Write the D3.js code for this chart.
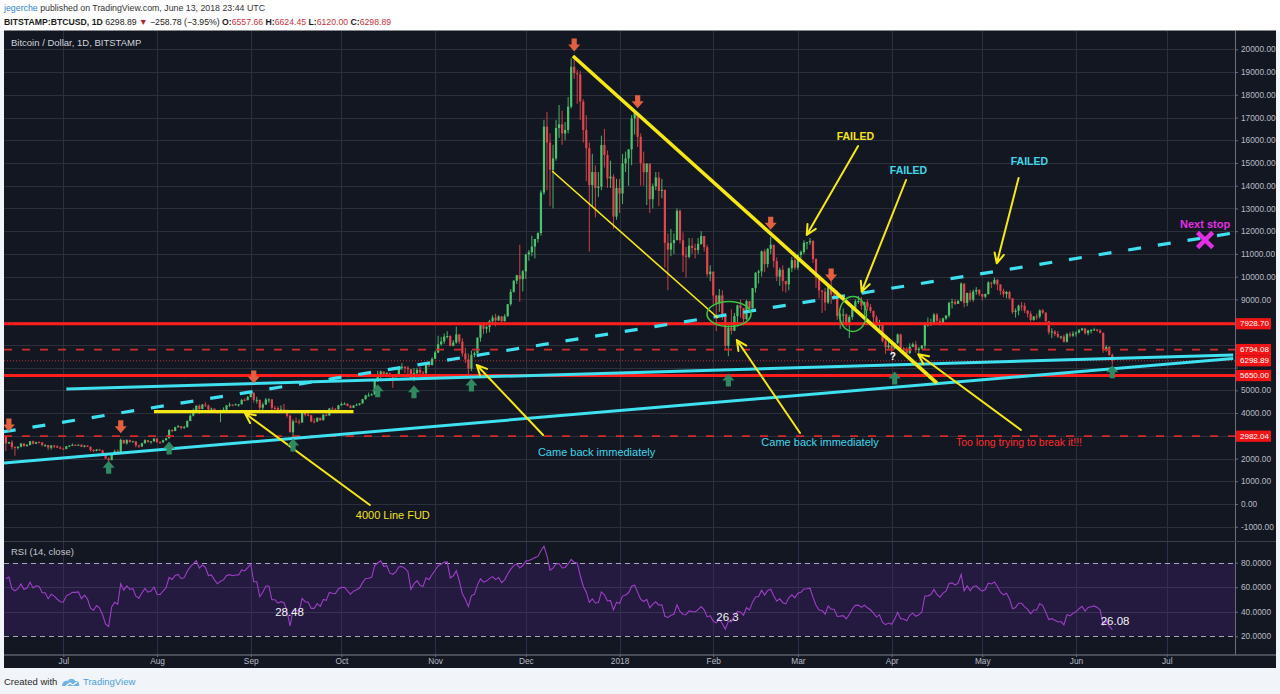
<!DOCTYPE html>
<html>
<head>
<meta charset="utf-8">
<script src="https://cdn.jsdelivr.net/npm/d3@7"></script>
<style>
  html, body { margin: 0; padding: 0; background: #f1f4f8; }
  svg { display: block; font-family: "Liberation Sans", Arial, sans-serif; }
</style>
</head>
<body>
<svg id="chart" width="1280" height="694"></svg>
<script>
// BTCUSD daily (Bitstamp), Jun 12 2017 -> Jun 13 2018
const firstDay = "2017-06-12";
// closes before the first bar, only used to warm up RSI(14); last one is the first bar's open
const warmupCloses = [2038, 2155, 2255, 2175, 2286, 2407, 2488, 2516, 2540, 2687, 2863, 2732, 2805, 2823, 2947, 2958];

const closes = [
  2659,2717,2506,2464,2518,2655,2548,2590,2761,2653,2717,2706,2589,2590,2478,2574,2539,2481,2434,
  2425,2536,2564,2602,2601,2608,2518,2571,2518,2372,2337,2398,2357,2233,1999,1929,2228,2318,2273,2817,2667,2810,2730,2755,2577,2529,2671,2809,2726,2757,2875,
  2718,2710,2805,2895,3252,3213,3378,3419,3342,3381,3650,3884,4073,4325,4181,4376,4331,4160,4193,4088,4001,4100,4151,4334,4371,4352,4382,4382,4579,4565,4703,
  4892,4578,4582,4236,4376,4597,4599,4228,4226,4122,4161,4130,3882,3154,3637,3625,3582,4065,3924,3905,3631,3630,3792,3682,3926,3892,4200,4174,4163,4338,
  4403,4409,4318,4229,4328,4370,4426,4611,4773,4782,4820,5431,5638,5829,5712,5754,5596,5572,5696,6010,6031,5995,5930,5526,5750,5904,5780,5753,6154,6105,6388,
  6665,7024,7152,7363,7389,6959,7102,7459,7143,6618,6357,5950,6559,6635,7315,7871,7708,7790,8037,8200,8071,8253,8038,8253,8790,9330,9818,10058,9888,10233,
  10975,11074,11323,11657,11916,13700,16600,15900,14700,15200,16540,16700,16300,16450,17475,19230,18950,18900,17700,16450,15650,14030,14600,13900,13960,15790,15350,14320,14400,12640,13900,
  13657,14982,15201,15599,16960,17185,16150,14990,14595,14973,13405,13980,14360,13772,13819,11490,11188,11474,11607,12899,11600,10931,10868,11359,11259,11171,11441,11787,11296,10107,10221,
  9171,8830,9174,8277,6955,7754,7621,8265,8736,8621,8129,8926,8598,9494,10166,10233,11112,10551,11225,11403,10690,10005,10301,9813,9664,10366,10725,10397,
  10951,11086,11489,11512,11573,10779,9965,9395,9337,8866,9578,9205,9194,8269,8300,8338,7916,8223,8630,8913,8929,8728,8879,8668,8495,8209,7833,7954,7165,6891,6973,
  6844,7083,7456,6853,6811,6636,6911,7023,6770,6834,6968,7889,7895,7986,8329,8058,7903,8163,8294,8845,8895,8802,8930,9697,8845,9281,8987,9348,9419,9240,
  9119,9235,9743,9700,9858,9654,9373,9234,9325,9043,8441,8504,8723,8716,8510,8368,8094,8250,8247,8513,8418,8041,7557,7587,7480,7355,7368,7135,7472,7406,7494,
  7541,7643,7720,7514,7633,7653,7678,7624,7531,6786,6906,6557.66,6298.89
];
const highs = [
  2981,2740,2800,2535,2535,2686,2685,2640,2766,2790,2739,2759,2720,2630,2600,2579,2596,2580,2540,
  2480,2550,2595,2660,2620,2620,2610,2580,2575,2530,2410,2418,2425,2385,2240,2060,2240,2390,2400,2880,2830,2850,2835,2780,2760,2610,2695,2840,2810,2760,2900,
  2900,2760,2830,2900,3290,3300,3400,3480,3430,3440,3680,3950,4200,4330,4380,4400,4480,4370,4240,4200,4100,4150,4250,4360,4460,4380,4420,4400,4620,4650,4750,
  4920,4910,4720,4590,4460,4660,4650,4620,4320,4300,4340,4400,4150,3930,3720,3800,3730,4110,4100,4050,3930,3770,3800,3800,3950,3990,4220,4280,4220,4360,
  4470,4470,4430,4360,4350,4420,4440,4620,4800,4900,4870,5440,5860,5870,5830,5800,5780,5620,5730,6070,6190,6070,6070,5940,5980,5990,6030,5850,6200,6180,6450,
  6740,7400,7350,7500,7600,7420,7210,7800,7450,7290,6870,6620,6750,6710,7330,7950,8000,7850,8100,8300,8370,8300,8270,8350,8800,9450,9850,10080,11400,10300,
  11000,11170,11800,11660,11950,13800,16900,17250,16300,15800,16900,17550,17300,16800,17900,19600,19666,19100,19050,17800,17100,15900,15400,14900,14600,16200,16500,15550,15100,14500,14300,
  14300,15400,15500,15600,17100,17250,17140,16300,15500,14950,14900,14100,14600,14600,14300,13800,11900,12100,11900,13000,12950,11950,11300,11700,11700,11450,11700,12000,11700,11400,10500,
  10200,9200,9460,9400,8380,7900,8560,8400,8770,9000,8580,8980,8920,9500,10200,10300,11150,11200,11250,11750,11300,10850,10400,10500,9800,10400,10870,11070,
  11000,11150,11600,11530,11700,11600,10800,9980,9400,9500,9700,9900,9500,9400,8400,8600,8380,8300,8700,9000,9150,9100,8900,8990,8800,8500,8300,8100,7950,7250,7200,
  7100,7100,7500,7500,6900,6900,7070,7100,7170,6900,6990,8000,8200,8150,8400,8400,8170,8200,8300,8900,9030,9000,8970,9750,9700,9300,9400,9430,9540,9450,
  9240,9260,9800,9770,9960,9900,9660,9470,9370,9380,9040,8600,8770,8880,8850,8500,8480,8270,8380,8560,8580,8420,8050,7730,7650,7600,7400,7450,7530,7570,7600,
  7600,7700,7750,7750,7660,7700,7750,7700,7700,7530,6990,6950,6624.45
];
const lows = [
  2330,2640,2400,2120,2394,2485,2518,2520,2588,2620,2632,2683,2532,2512,2374,2395,2457,2460,2409,
  2400,2400,2530,2570,2560,2580,2500,2490,2510,2310,2280,2320,2350,2200,1980,1840,1930,2200,2240,2270,2650,2610,2700,2720,2490,2460,2510,2660,2700,2650,2740,
  2690,2650,2700,2790,2880,3160,3200,3370,3280,3310,3370,3640,3850,4000,3950,4170,4260,4000,4000,4080,3970,3600,4080,4130,4270,4300,4340,4280,4380,4530,4560,
  4690,4460,4420,4110,4120,4360,4450,4100,4100,3970,4100,4070,3800,3150,2950,3580,3500,3580,3850,3860,3600,3550,3600,3660,3690,3860,3890,4160,4030,4150,
  4330,4370,4290,4200,4230,4330,4330,4420,4590,4730,4780,4820,5370,5540,5600,5570,5550,5110,5570,5640,5890,5750,5700,5500,5400,5700,5700,5710,5700,6020,6110,
  6380,6630,6960,7050,7280,6930,6940,7050,7040,6480,6200,5500,5850,6450,6640,7140,7480,7510,7550,7960,7810,8050,8010,8050,8250,8720,9300,9680,8900,9350,
  9900,10700,10900,10800,11500,11800,13600,13800,13100,13000,15100,16100,15800,16000,16300,17400,18700,17600,16900,15900,14200,11100,13100,12600,13500,13800,14800,13900,13900,12100,12500,
  12800,13200,14600,14000,14900,16250,15700,14000,14000,13150,12800,13000,13800,13100,13450,10400,9400,10900,11000,11600,11450,10200,9950,10800,11000,10800,11000,11400,11100,10000,9800,
  8800,7600,8450,8100,6800,6500,7450,7600,7800,8200,7850,8100,8400,8600,9300,9700,10000,10200,10400,11000,10400,9800,9600,9350,9300,9400,10200,10300,
  10300,10800,11000,11200,11400,10600,9500,9050,8400,8500,8800,8800,9000,8100,7700,7900,7800,7300,8100,8500,8800,8550,8300,8500,8400,7900,7800,7700,7100,6600,6800,
  6600,6800,7030,6800,6650,6580,6600,6900,6650,6640,6800,6800,7800,7830,7970,7900,7850,7900,8100,8200,8600,8750,8800,8900,8650,8700,8900,8900,9200,9150,
  8950,9050,9200,9500,9650,9400,9200,9100,9050,9000,8360,8200,8300,8500,8400,8200,8020,8060,8100,8160,8350,8000,7450,7300,7380,7300,7250,7100,7100,7320,7350,
  7360,7500,7620,7450,7420,7500,7620,7570,7500,6650,6700,6520,6120
];

const monthTicks = ["2017-07-01","2017-08-01","2017-09-01","2017-10-01","2017-11-01","2017-12-01","2018-01-01",
                    "2018-02-01","2018-03-01","2018-04-01","2018-05-01","2018-06-01","2018-07-01"];
const monthLabels = ["Jul","Aug","Sep","Oct","Nov","Dec","2018","Feb","Mar","Apr","May","Jun","Jul"];
const priceTicks = d3.range(-1000, 20001, 1000);
const rsiTicks = [20, 40, 60, 80];

// horizontal levels drawn on the chart
const solidLevels = [7928.70, 5650.00];
const dashedLevels = [6794.08, 2982.04];
const lastPrice = 6298.89;
const axisBadges = [7928.70, 6794.08, 6298.89, 5650.00, 2982.04];

// trend lines: [date, price] endpoints
const cyanDashed  = [["2017-06-11", 3170], ["2018-07-23", 11920]];
const cyanTop     = [["2017-07-02", 5058], ["2018-07-23", 6554]];
const cyanSupport = [["2017-06-11", 1803], ["2018-07-23", 6400]];
const yellowChannel = [["2017-12-16T14:00Z", 19705], ["2018-04-16", 5320]];
const yellowThin    = [["2017-12-09T17:00Z", 14647], ["2018-02-02T14:00Z", 8181]];
const yellowFlat    = [["2017-07-31", 4060], ["2017-10-05", 4060]];

// yellow pointer arrows: from -> to (head at "to")
const pointers = [
  [["2017-10-10T10:00Z", -44],   ["2017-08-30T02:00Z", 3989]],
  [["2017-12-06T17:00Z", 3035],  ["2017-11-14T18:00Z", 6114]],
  [["2018-03-01T17:00Z", 3123],  ["2018-02-08T19:00Z", 7213]],
  [["2018-05-13T19:00Z", 3255],  ["2018-04-09T19:00Z", 6585]],
  [["2018-03-20T22:00Z", 15746], ["2018-03-03T22:00Z", 11832]],
  [["2018-04-05T19:00Z", 14251], ["2018-03-22T02:00Z", 9338]],
  [["2018-05-13T00:00Z", 14339], ["2018-05-05T19:00Z", 10587]]
];

// pivot markers
const downMarks = [["2017-06-13", 3475], ["2017-07-20", 3400], ["2017-09-02", 5586], ["2017-12-17", 20189],
                   ["2018-01-07", 17695], ["2018-02-20", 12346], ["2018-03-12", 10072]];
const upMarks = [["2017-07-16", 1614], ["2017-08-05", 2463], ["2017-09-15", 2595], ["2017-10-13", 4983],
                 ["2017-10-25", 4940], ["2017-11-13", 5234], ["2018-02-06", 5454], ["2018-04-02", 5542],
                 ["2018-06-13", 5819]];

const ellipses = [
  { at: ["2018-02-06T05:00Z", 8357], rx: 22, ry: 12.5 },
  { at: ["2018-03-19T05:00Z", 8357], rx: 13.5, ry: 17.5 }
];

const notes = [
  { text: "4000 Line FUD", at: ["2017-10-18", -484], color: "#f3e31b", size: 11, bold: false },
  { text: "Came back immediately", at: ["2017-12-24T10:00Z", 2287], color: "#3fd6e8", size: 11, bold: false },
  { text: "Came back immediately", at: ["2018-03-08T08:00Z", 2727], color: "#3fd6e8", size: 11, bold: false },
  { text: "Too long trying to break it!!!", at: ["2018-05-13T03:00Z", 2727], color: "#ff2a2a", size: 10.5, bold: false },
  { text: "FAILED", at: ["2018-03-20T00:00Z", 16186], color: "#f3e31b", size: 10.5, bold: true },
  { text: "FAILED", at: ["2018-04-06T14:00Z", 14691], color: "#3fd6e8", size: 10.5, bold: true },
  { text: "FAILED", at: ["2018-05-16T14:00Z", 15087], color: "#3fd6e8", size: 10.5, bold: true },
  { text: "Next stop", at: ["2018-07-13T17:00Z", 12316], color: "#e22fe2", size: 11, bold: true },
  { text: "?", at: ["2018-04-01T10:00Z", 6466], color: "#ffffff", size: 10, bold: true }
];
const nextStopMark = ["2018-07-13T17:00Z", 11612];

const rsiNotes = [
  { text: "28.48", at: ["2017-09-13T20:00Z", 39.8] },
  { text: "26.3",  at: ["2018-02-05T17:00Z", 35.7] },
  { text: "26.08", at: ["2018-06-13T22:00Z", 32.4] }
];

// ---------- layout ----------
const svg = d3.select("#chart");
const pane = { left: 4, right: 1235, top: 31, bottom: 541 };
const rsiPane = { top: 541, bottom: 655 };
const frameRight = 1276, frameBottom = 668;

const x = d3.scaleUtc().domain([new Date("2017-07-01"), new Date("2018-07-01")]).range([63.3, 1166.7]);
const y = d3.scaleLinear().domain([0, 20000]).range([504, 49.3]);
const yR = d3.scaleLinear().domain([20, 80]).range([636.3, 562.7]);
const P = (pt) => [x(new Date(pt[0])), y(pt[1])];

const grid = "#2c303b";
const red = "#ff1d1d";
const cyan = "#3fe0f0";
const yellow = "#f5e814";

// page pieces
svg.append("rect").attr("width", 1280).attr("height", 31).attr("fill", "#ffffff");
svg.append("rect").attr("x", pane.left).attr("y", 30.5).attr("width", frameRight - pane.left)
  .attr("height", frameBottom - 30.5).attr("fill", "#131722");

// header
const h1 = svg.append("text").attr("x", 4).attr("y", 11).attr("font-size", 8.8).attr("fill", "#333");
h1.append("tspan").attr("fill", "#2f7fd0").text("jegerche");
h1.append("tspan").text(" published on TradingView.com, June 13, 2018 23:44 UTC");
const h2 = svg.append("text").attr("x", 4).attr("y", 24.5).attr("font-size", 8.7).attr("fill", "#1b1b1b");
[
  { t: "BITSTAMP:BTCUSD, 1D", b: true }, { t: " 6298.89 " }, { t: "▼", c: "#b3202a" },
  { t: " \u2212258.78 (\u22123.95%) " }, { t: "O:", b: true }, { t: "6557.66 ", c: "#c8323a" },
  { t: "H:", b: true }, { t: "6624.45 ", c: "#c8323a" }, { t: "L:", b: true }, { t: "6120.00 ", c: "#c8323a" },
  { t: "C:", b: true }, { t: "6298.89", c: "#c8323a" }
].forEach(s => {
  h2.append("tspan").attr("font-weight", s.b ? "bold" : "normal").attr("fill", s.c || "#1b1b1b").text(s.t);
});

// clip paths
const defs = svg.append("defs");
defs.append("clipPath").attr("id", "clipMain").append("rect")
  .attr("x", pane.left).attr("y", pane.top).attr("width", pane.right - pane.left).attr("height", pane.bottom - pane.top);
defs.append("clipPath").attr("id", "clipRsi").append("rect")
  .attr("x", pane.left).attr("y", rsiPane.top).attr("width", pane.right - pane.left).attr("height", rsiPane.bottom - rsiPane.top);

// grid
const gGrid = svg.append("g");
gGrid.selectAll("line.h").data(priceTicks).join("line")
  .attr("x1", pane.left).attr("x2", pane.right)
  .attr("y1", d => Math.round(y(d)) + 0.5).attr("y2", d => Math.round(y(d)) + 0.5)
  .attr("stroke", grid);
gGrid.selectAll("line.v").data(monthTicks).join("line")
  .attr("x1", d => Math.round(x(new Date(d))) + 0.5).attr("x2", d => Math.round(x(new Date(d))) + 0.5)
  .attr("y1", pane.top).attr("y2", rsiPane.bottom)
  .attr("stroke", grid);

// RSI pane band + lines
const gR = svg.append("g").attr("clip-path", "url(#clipRsi)");
gR.append("rect").attr("x", pane.left).attr("width", pane.right - pane.left)
  .attr("y", yR(80)).attr("height", yR(20) - yR(80)).attr("fill", "#24193f");
gR.selectAll("line.rg").data([40, 60]).join("line")
  .attr("x1", pane.left).attr("x2", pane.right)
  .attr("y1", d => Math.round(yR(d)) + 0.5).attr("y2", d => Math.round(yR(d)) + 0.5)
  .attr("stroke", "#3a3156");
gR.selectAll("line.rv").data(monthTicks).join("line")
  .attr("x1", d => Math.round(x(new Date(d))) + 0.5).attr("x2", d => Math.round(x(new Date(d))) + 0.5)
  .attr("y1", rsiPane.top).attr("y2", rsiPane.bottom).attr("stroke", "#332c4c");
gR.selectAll("line.rb").data([20, 80]).join("line")
  .attr("x1", pane.left).attr("x2", pane.right)
  .attr("y1", d => Math.round(yR(d)) + 0.5).attr("y2", d => Math.round(yR(d)) + 0.5)
  .attr("stroke", "#a6a9b3").attr("stroke-dasharray", "5,4");

// candles
const days = d3.utcDay.range(new Date(firstDay), d3.utcDay.offset(new Date(firstDay), closes.length));
const bars = closes.map((c, i) => {
  const o = i ? closes[i - 1] : warmupCloses[warmupCloses.length - 1];
  return { date: days[i], o, c, h: Math.max(highs[i], o, c), l: Math.min(lows[i], o, c) };
});
const up = "#4cc46c", down = "#e0464c";
const gMain = svg.append("g").attr("clip-path", "url(#clipMain)");
const gC = gMain.append("g");
gC.selectAll("line.wick").data(bars).join("line")
  .attr("x1", d => x(d.date)).attr("x2", d => x(d.date))
  .attr("y1", d => y(d.h)).attr("y2", d => y(d.l))
  .attr("stroke", d => d.c >= d.o ? up : down).attr("stroke-width", 0.9);
gC.selectAll("rect.body").data(bars).join("rect")
  .attr("x", d => x(d.date) - 1.1).attr("width", 2.2)
  .attr("y", d => y(Math.max(d.o, d.c)))
  .attr("height", d => Math.max(1, Math.abs(y(d.o) - y(d.c))))
  .attr("fill", d => d.c >= d.o ? up : down);

// RSI(14) of the closes
function rsi(values, n) {
  const out = values.map(() => null);
  let g = 0, l = 0;
  for (let i = 1; i < values.length; i++) {
    const ch = values[i] - values[i - 1];
    const gu = Math.max(ch, 0), ld = Math.max(-ch, 0);
    if (i <= n) {
      g += gu / n; l += ld / n;
      if (i < n) continue;
    } else {
      g = (g * (n - 1) + gu) / n;
      l = (l * (n - 1) + ld) / n;
    }
    out[i] = l === 0 ? 100 : 100 - 100 / (1 + g / l);
  }
  return out;
}
const rsiAll = rsi(warmupCloses.concat(closes), 14);
const rsiSeries = bars.map((b, i) => ({ date: b.date, v: rsiAll[i + warmupCloses.length] }));
gR.append("path").datum(rsiSeries)
  .attr("d", d3.line().defined(d => d.v != null).x(d => x(d.date)).y(d => yR(d.v)))
  .attr("fill", "none").attr("stroke", "#9d3fc6").attr("stroke-width", 1.1);
gR.selectAll("text.rn").data(rsiNotes).join("text")
  .attr("x", d => x(new Date(d.at[0]))).attr("y", d => yR(d.at[1]))
  .attr("text-anchor", "middle").attr("dominant-baseline", "central")
  .attr("font-size", 11.5).attr("fill", "#f2f2f5").text(d => d.text);

// horizontal levels
const gD = gMain.append("g");
gD.selectAll("line.sl").data(solidLevels).join("line")
  .attr("x1", pane.left).attr("x2", pane.right).attr("y1", d => y(d)).attr("y2", d => y(d))
  .attr("stroke", red).attr("stroke-width", 3);
gD.selectAll("line.dl").data(dashedLevels).join("line")
  .attr("x1", pane.left).attr("x2", pane.right).attr("y1", d => y(d)).attr("y2", d => y(d))
  .attr("stroke", "#d42a2a").attr("stroke-width", 1.8).attr("stroke-dasharray", "8,10");
gD.append("line").attr("x1", pane.left).attr("x2", pane.right)
  .attr("y1", y(lastPrice)).attr("y2", y(lastPrice))
  .attr("stroke", "#e53935").attr("stroke-width", 1).attr("stroke-dasharray", "1,2").attr("opacity", 0.8);

// trend lines
const seg = (pts, color, w, dash) => {
  const a = P(pts[0]), b = P(pts[1]);
  gD.append("line").attr("x1", a[0]).attr("y1", a[1]).attr("x2", b[0]).attr("y2", b[1])
    .attr("stroke", color).attr("stroke-width", w).attr("stroke-dasharray", dash || null);
};
seg(cyanTop, cyan, 3);
seg(cyanSupport, cyan, 3);
seg(cyanDashed, cyan, 3.2, "13,17");
seg(yellowFlat, yellow, 3.2);
seg(yellowChannel, yellow, 3.6);
seg(yellowThin, yellow, 1.6);

// ellipses
gD.selectAll("ellipse").data(ellipses).join("ellipse")
  .attr("cx", d => P(d.at)[0]).attr("cy", d => P(d.at)[1])
  .attr("rx", d => d.rx).attr("ry", d => d.ry)
  .attr("fill", "none").attr("stroke", "#3fc23f").attr("stroke-width", 1.6);

// pointer arrows
pointers.forEach(([from, to]) => {
  const a = P(from), b = P(to);
  const ang = Math.atan2(a[1] - b[1], a[0] - b[0]);
  const len = 11, spread = 0.45;
  const path = d3.path();
  path.moveTo(a[0], a[1]); path.lineTo(b[0], b[1]);
  path.moveTo(b[0] + len * Math.cos(ang + spread), b[1] + len * Math.sin(ang + spread));
  path.lineTo(b[0], b[1]);
  path.lineTo(b[0] + len * Math.cos(ang - spread), b[1] + len * Math.sin(ang - spread));
  gD.append("path").attr("d", path.toString()).attr("fill", "none")
    .attr("stroke", yellow).attr("stroke-width", 2).attr("stroke-linecap", "round").attr("stroke-linejoin", "round");
});

// pivot markers
const downShape = "M-2.6,-6.5L2.6,-6.5L2.6,-0.5L6,-0.5L0,6.5L-6,-0.5L-2.6,-0.5Z";
gD.selectAll("path.dm").data(downMarks).join("path")
  .attr("d", downShape).attr("fill", "#e2603e")
  .attr("transform", d => `translate(${P(d)[0]},${P(d)[1]})`);
gD.selectAll("path.um").data(upMarks).join("path")
  .attr("d", downShape).attr("fill", "#2f8a62")
  .attr("transform", d => `translate(${P(d)[0]},${P(d)[1]}) rotate(180)`);

// next stop marker
const ns = P(nextStopMark);
gD.append("path")
  .attr("d", `M${ns[0] - 6},${ns[1] - 6}L${ns[0] + 6},${ns[1] + 6}M${ns[0] + 6},${ns[1] - 6}L${ns[0] - 6},${ns[1] + 6}`)
  .attr("stroke", "#e22fe2").attr("stroke-width", 4.5).attr("stroke-linecap", "square");

// text notes
gD.selectAll("text.note").data(notes).join("text")
  .attr("x", d => P(d.at)[0]).attr("y", d => P(d.at)[1])
  .attr("text-anchor", "middle").attr("dominant-baseline", "central")
  .attr("font-size", d => d.size).attr("font-weight", d => d.bold ? "bold" : "normal")
  .attr("fill", d => d.color).text(d => d.text);

// pane titles
svg.append("text").attr("x", 11).attr("y", 46).attr("font-size", 9.5).attr("fill", "#d1d4dc")
  .text("Bitcoin / Dollar, 1D, BITSTAMP");
svg.append("text").attr("x", 11).attr("y", 555).attr("font-size", 9.5).attr("fill", "#c3c6ce")
  .text("RSI (14, close)");

// separators
svg.append("line").attr("x1", pane.right + 0.5).attr("x2", pane.right + 0.5)
  .attr("y1", pane.top).attr("y2", rsiPane.bottom).attr("stroke", "#6b6e79");
svg.append("line").attr("x1", pane.left).attr("x2", frameRight)
  .attr("y1", pane.bottom + 0.5).attr("y2", pane.bottom + 0.5).attr("stroke", "#3b3f4b");
svg.append("line").attr("x1", pane.left).attr("x2", frameRight)
  .attr("y1", rsiPane.bottom).attr("y2", rsiPane.bottom).attr("stroke", "#5d616e").attr("stroke-width", 1.5);

// price axis (tick labels hidden where a level badge sits on top of them)
const axisStyle = g => {
  g.select(".domain").remove();
  g.selectAll(".tick line").attr("stroke", "#6b6e79");
  g.selectAll(".tick text").attr("fill", "#b8bbc4").attr("font-size", 8.3)
    .attr("font-family", "\"Liberation Sans\", Arial, sans-serif");
};
const coveredTick = t => axisBadges.some(b => Math.abs(y(b) - y(t)) < 11);
svg.append("g").attr("transform", `translate(${pane.right},0)`)
  .call(d3.axisRight(y).tickValues(priceTicks).tickFormat(d => coveredTick(d) ? "" : d.toFixed(2)).tickSize(3).tickPadding(3))
  .call(axisStyle);
svg.append("g").attr("transform", `translate(${pane.right},0)`)
  .call(d3.axisRight(yR).tickValues(rsiTicks).tickFormat(d => d.toFixed(4)).tickSize(3).tickPadding(3))
  .call(axisStyle);

// badges on price axis
const badge = svg.append("g").selectAll("g").data(axisBadges).join("g")
  .attr("transform", d => `translate(${pane.right + 1},${y(d)})`);
badge.append("rect").attr("x", 0).attr("y", -5.6).attr("width", 35).attr("height", 11.2).attr("fill", "#f21414");
badge.append("text").attr("x", 4).attr("y", 0).attr("dominant-baseline", "central")
  .attr("font-size", 8).attr("fill", "#ffffff").text(d => d.toFixed(2));

// time axis
const monthDates = monthTicks.map(d => new Date(d));
svg.append("g").attr("transform", `translate(0,${rsiPane.bottom})`)
  .call(d3.axisBottom(x).tickValues(monthDates).tickFormat((d, i) => monthLabels[i]).tickSize(2).tickPadding(1))
  .call(axisStyle);

// footer
svg.append("text").attr("x", 4).attr("y", 685).attr("font-size", 9.5).attr("fill", "#2b2b2b").text("Created with");
svg.append("path")
  .attr("d", "M62,686 C62,682 65,680 68,681 C69,678 74,678 75,681 C78,681 80,683 79,686 Z")
  .attr("fill", "#6fb3e6");
svg.append("path")
  .attr("d", "M66,686 L70,683 L73,685 L77,682")
  .attr("fill", "none").attr("stroke", "#ffffff").attr("stroke-width", 1.2);
svg.append("text").attr("x", 83).attr("y", 685).attr("font-size", 9.5).attr("fill", "#4b9fdc").text("TradingView");
</script>
</body>
</html>
